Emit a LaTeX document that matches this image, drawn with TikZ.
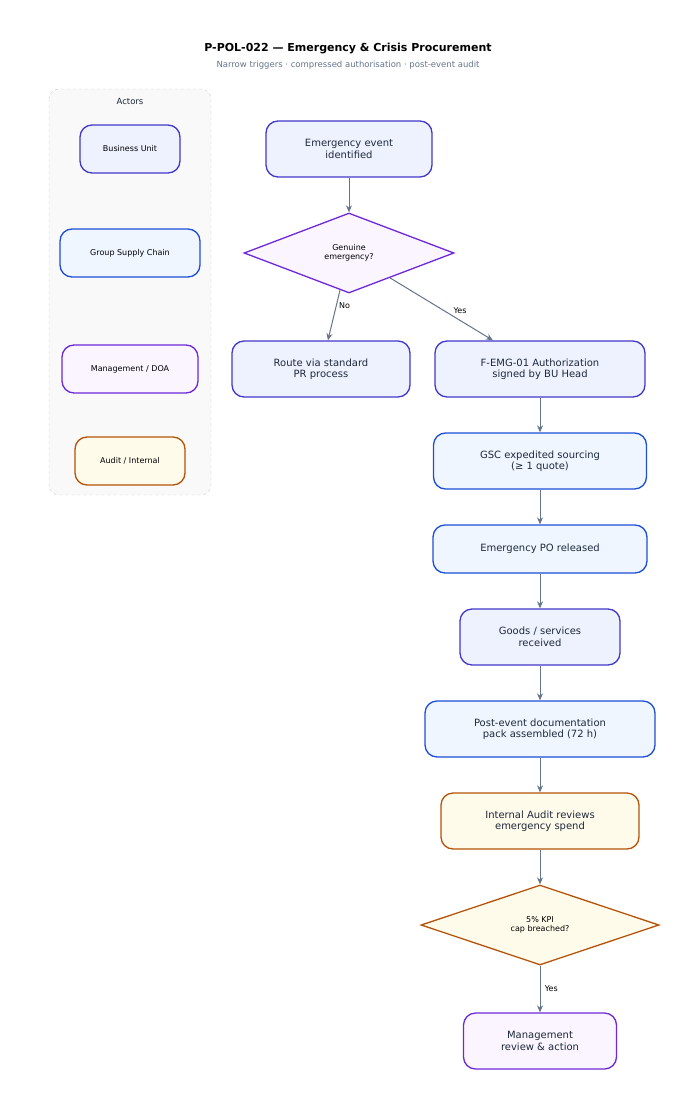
\documentclass[tikz,border=0pt]{standalone}
\usepackage{fontspec}
\setmainfont{DejaVu Sans}
\usetikzlibrary{shapes.geometric,arrows.meta}
\definecolor{ind}{HTML}{4338CA}\definecolor{indf}{HTML}{EEF2FF}
\definecolor{blu}{HTML}{1D4ED8}\definecolor{bluf}{HTML}{EFF6FF}
\definecolor{pur}{HTML}{6D28D9}\definecolor{purf}{HTML}{FAF5FF}
\definecolor{org}{HTML}{B45309}\definecolor{orgf}{HTML}{FFFBEB}
\definecolor{arr}{HTML}{64748B}\definecolor{txt}{HTML}{1E293B}
\begin{document}
\begin{tikzpicture}[x=1pt,y=-1pt,
 box/.style={draw,rounded corners=12pt,line width=1.3pt,align=center,inner sep=0pt,font=\fontsize{10}{11.5}\selectfont,text=txt},
 act/.style={box,font=\fontsize{8}{9}\selectfont,text=black},
 I/.style={draw=ind,fill=indf},B/.style={draw=blu,fill=bluf},
 P/.style={draw=pur,fill=purf},O/.style={draw=org,fill=orgf},
 dia/.style={diamond,draw,line width=1.3pt,inner sep=0pt,align=center,font=\fontsize{8}{9.5}\selectfont,text=black},
 ar/.style={draw=arr,line width=1pt,-{Stealth[length=7pt,width=6pt]}},
 lab/.style={font=\fontsize{8}{9}\selectfont,text=black}]
\useasboundingbox (0,0) rectangle (697,1107);
\node[font=\bfseries\fontsize{11}{12}\selectfont] (title) at (348,49) {P-POL-022 — Emergency \& Crisis Procurement};
\node[font=\fontsize{8.5}{9}\selectfont,text=arr] (sub) at (348,65) {Narrow triggers · compressed authorisation · post-event audit};
\draw[draw=gray!40,dashed,fill=gray!5,rounded corners=10pt] (49,89) rectangle (211,495);
\node[font=\fontsize{8.5}{9}\selectfont,text=txt] (actors) at (130,101) {Actors};
\node[act,I,minimum width=100pt,minimum height=48pt] (a1) at (130,149) {Business Unit};
\node[act,B,minimum width=140pt,minimum height=48pt] (a2) at (130,253) {Group Supply Chain};
\node[act,P,minimum width=136pt,minimum height=48pt] (a3) at (130,369) {Management / DOA};
\node[act,O,minimum width=110pt,minimum height=48pt] (a4) at (130,461) {Audit / Internal};

\node[box,I,minimum width=166pt,minimum height=56pt] (ev) at (349,149) {Emergency event\\identified};
\node[dia,P,fill=purf,minimum width=210pt,minimum height=80pt,aspect=2.625] (d1) at (349,253) {Genuine\\emergency?};
\node[box,I,minimum width=178pt,minimum height=56pt] (rt) at (321,369) {Route via standard\\PR process};
\node[box,I,minimum width=210pt,minimum height=56pt] (fe) at (540,369) {F-EMG-01 Authorization\\signed by BU Head};
\node[box,B,minimum width=213pt,minimum height=56pt] (gs) at (540,461) {GSC expedited sourcing\\(≥ 1 quote)};
\node[box,B,minimum width=214pt,minimum height=48pt] (po) at (540,549) {Emergency PO released};
\node[box,I,minimum width=160pt,minimum height=56pt] (gd) at (540,637) {Goods / services\\received};
\node[box,B,minimum width=230pt,minimum height=56pt] (pe) at (540,729) {Post-event documentation\\pack assembled (72 h)};
\node[box,O,minimum width=198pt,minimum height=56pt] (ia) at (540,821) {Internal Audit reviews\\emergency spend};
\node[dia,O,fill=orgf,minimum width=238pt,minimum height=80pt,aspect=2.975] (d2) at (540,925) {5\% KPI\\cap breached?};
\node[box,P,minimum width=153pt,minimum height=56pt] (mg) at (540,1041) {Management\\review \& action};

\draw[ar] (ev) -- (d1);
\draw[ar] (d1) -- node[lab,pos=0.3,right=-1pt] {No} (rt);
\draw[ar] (d1) -- node[lab,pos=0.6,above right=-2pt] {Yes} (fe);
\draw[ar] (fe) -- (gs);
\draw[ar] (gs) -- (po);
\draw[ar] (po) -- (gd);
\draw[ar] (gd) -- (pe);
\draw[ar] (pe) -- (ia);
\draw[ar] (ia) -- (d2);
\draw[ar] (d2) -- node[lab,right=1pt] {Yes} (mg);
\end{tikzpicture}
\end{document}
